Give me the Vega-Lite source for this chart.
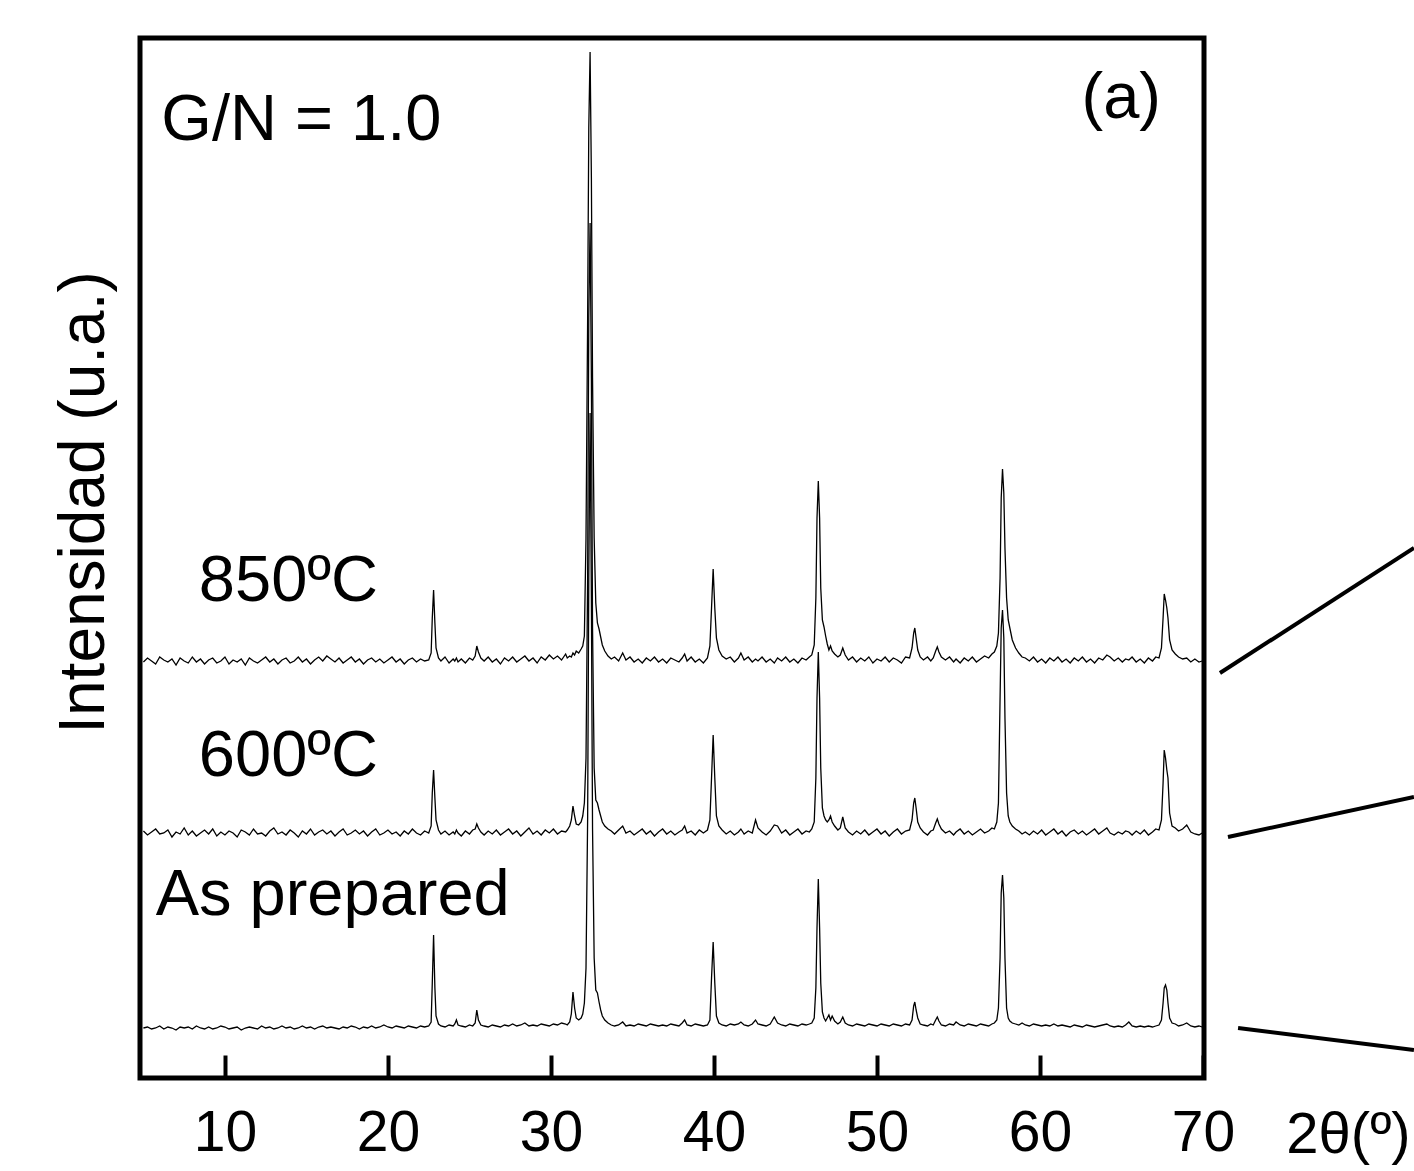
{
  "$schema": "https://vega.github.io/schema/vega-lite/v6.json",
  "width": 1064,
  "height": 1040,
  "autosize": {"type": "none"},
  "padding": {"left": 140, "top": 38, "right": 210, "bottom": 93},
  "background": "white",
  "config": {
    "view": {"stroke": "black", "strokeWidth": 5},
    "font": "Liberation Sans"
  },
  "datasets": {
    "xrd": [
      {"x":5,"a":50,"b":247,"c":416},{"x":5.25,"a":51,"b":243,"c":420},{"x":5.5,"a":49,"b":246,"c":417},{"x":5.75,"a":50,"b":249,"c":414},
      {"x":6,"a":52,"b":244,"c":421},{"x":6.25,"a":49,"b":245,"c":418},{"x":6.5,"a":51,"b":248,"c":416},{"x":6.75,"a":50,"b":241,"c":419},
      {"x":7,"a":48,"b":246,"c":413},{"x":7.25,"a":51,"b":244,"c":420},{"x":7.5,"a":50,"b":250,"c":417},{"x":7.75,"a":51,"b":243,"c":415},
      {"x":8,"a":49,"b":247,"c":421},{"x":8.25,"a":52,"b":242,"c":416},{"x":8.5,"a":50,"b":245,"c":419},{"x":8.75,"a":49,"b":248,"c":414},
      {"x":9,"a":51,"b":244,"c":418},{"x":9.25,"a":49,"b":249,"c":420},{"x":9.5,"a":50,"b":242,"c":415},{"x":9.75,"a":52,"b":246,"c":417},
      {"x":10,"a":51,"b":243,"c":421},{"x":10.25,"a":49,"b":247,"c":414},{"x":10.5,"a":50,"b":245,"c":418},{"x":10.75,"a":51,"b":241,"c":416},
      {"x":11,"a":48,"b":248,"c":419},{"x":11.25,"a":50,"b":246,"c":413},{"x":11.5,"a":51,"b":243,"c":420},{"x":11.75,"a":50,"b":249,"c":417},
      {"x":12,"a":49,"b":244,"c":415},{"x":12.25,"a":52,"b":245,"c":418},{"x":12.5,"a":50,"b":242,"c":421},{"x":12.75,"a":51,"b":247,"c":416},
      {"x":13,"a":49,"b":250,"c":419},{"x":13.25,"a":50,"b":244,"c":414},{"x":13.5,"a":52,"b":246,"c":418},{"x":13.75,"a":50,"b":243,"c":420},
      {"x":14,"a":51,"b":248,"c":415},{"x":14.25,"a":49,"b":245,"c":417},{"x":14.5,"a":50,"b":241,"c":421},{"x":14.75,"a":52,"b":247,"c":416},
      {"x":15,"a":50,"b":244,"c":419},{"x":15.25,"a":51,"b":249,"c":414},{"x":15.5,"a":49,"b":243,"c":418},{"x":15.75,"a":51,"b":246,"c":421},
      {"x":16,"a":52,"b":248,"c":417},{"x":16.25,"a":50,"b":244,"c":422},{"x":16.5,"a":51,"b":247,"c":419},{"x":16.75,"a":50,"b":242,"c":416},
      {"x":17,"a":49,"b":246,"c":420},{"x":17.25,"a":51,"b":249,"c":415},{"x":17.5,"a":50,"b":243,"c":418},{"x":17.75,"a":52,"b":245,"c":421},
      {"x":18,"a":51,"b":248,"c":416},{"x":18.25,"a":49,"b":244,"c":419},{"x":18.5,"a":51,"b":247,"c":414},{"x":18.75,"a":50,"b":242,"c":418},
      {"x":19,"a":52,"b":246,"c":420},{"x":19.25,"a":50,"b":249,"c":416},{"x":19.5,"a":51,"b":243,"c":419},{"x":19.75,"a":53,"b":245,"c":415},
      {"x":20,"a":51,"b":248,"c":418},{"x":20.25,"a":50,"b":244,"c":421},{"x":20.5,"a":52,"b":246,"c":416},{"x":20.75,"a":51,"b":242,"c":419},
      {"x":21,"a":50,"b":247,"c":414},{"x":21.25,"a":52,"b":244,"c":418},{"x":21.5,"a":51,"b":249,"c":420},{"x":21.75,"a":50,"b":245,"c":416},
      {"x":22,"a":52,"b":243,"c":419},{"x":22.25,"a":51,"b":247,"c":417},{"x":22.5,"a":52,"b":245,"c":418},
      {"x":22.65,"a":56,"b":252,"c":425},{"x":22.72,"a":95,"b":285,"c":460},{"x":22.8,"a":143,"b":308,"c":488},{"x":22.88,"a":90,"b":280,"c":455},
      {"x":22.95,"a":62,"b":258,"c":430},{"x":23.1,"a":54,"b":248,"c":420},{"x":23.25,"a":52,"b":244,"c":417},{"x":23.5,"a":51,"b":247,"c":421},
      {"x":23.75,"a":53,"b":243,"c":415},{"x":24,"a":52,"b":246,"c":419},{"x":24.1,"a":54,"b":244,"c":417},{"x":24.2,"a":58,"b":248,"c":420},
      {"x":24.3,"a":53,"b":245,"c":416},{"x":24.5,"a":52,"b":242,"c":419},{"x":24.75,"a":51,"b":247,"c":415},{"x":25,"a":53,"b":244,"c":420},
      {"x":25.2,"a":52,"b":248,"c":418},{"x":25.35,"a":55,"b":249,"c":422},{"x":25.45,"a":68,"b":254,"c":432},{"x":25.55,"a":58,"b":250,"c":426},
      {"x":25.7,"a":53,"b":246,"c":420},{"x":25.9,"a":52,"b":243,"c":417},{"x":26.15,"a":51,"b":247,"c":421},{"x":26.4,"a":53,"b":244,"c":416},
      {"x":26.65,"a":52,"b":248,"c":419},{"x":26.9,"a":51,"b":243,"c":414},{"x":27.15,"a":53,"b":246,"c":420},{"x":27.4,"a":52,"b":249,"c":417},
      {"x":27.65,"a":54,"b":244,"c":421},{"x":27.9,"a":52,"b":247,"c":416},{"x":28.15,"a":53,"b":242,"c":419},{"x":28.4,"a":55,"b":246,"c":422},
      {"x":28.65,"a":52,"b":250,"c":417},{"x":28.9,"a":53,"b":244,"c":420},{"x":29.15,"a":52,"b":247,"c":415},{"x":29.4,"a":54,"b":243,"c":421},
      {"x":29.65,"a":53,"b":248,"c":418},{"x":29.9,"a":52,"b":245,"c":423},{"x":30.15,"a":54,"b":249,"c":419},{"x":30.4,"a":53,"b":244,"c":422},
      {"x":30.65,"a":55,"b":247,"c":418},{"x":30.9,"a":54,"b":246,"c":424},
      {"x":31,"a":53,"b":248,"c":420},{"x":31.15,"a":56,"b":252,"c":422},{"x":31.25,"a":64,"b":258,"c":421},{"x":31.35,"a":86,"b":272,"c":425},
      {"x":31.45,"a":70,"b":262,"c":423},{"x":31.55,"a":60,"b":254,"c":427},{"x":31.7,"a":58,"b":253,"c":425},{"x":31.85,"a":60,"b":256,"c":429},
      {"x":31.95,"a":64,"b":262,"c":432},{"x":32.05,"a":75,"b":275,"c":442},{"x":32.15,"a":110,"b":320,"c":540},{"x":32.25,"a":260,"b":500,"c":760},
      {"x":32.32,"a":500,"b":760,"c":950},{"x":32.4,"a":665,"b":855,"c":1026},{"x":32.48,"a":480,"b":700,"c":900},{"x":32.55,"a":250,"b":450,"c":700},
      {"x":32.65,"a":120,"b":310,"c":540},{"x":32.75,"a":88,"b":278,"c":475},{"x":32.85,"a":85,"b":275,"c":455},{"x":32.95,"a":76,"b":268,"c":449},
      {"x":33.05,"a":68,"b":262,"c":441},{"x":33.15,"a":62,"b":256,"c":433},{"x":33.3,"a":58,"b":252,"c":427},{"x":33.5,"a":55,"b":249,"c":422},
      {"x":33.7,"a":53,"b":247,"c":419},{"x":33.9,"a":52,"b":244,"c":421},{"x":34.15,"a":53,"b":248,"c":417},{"x":34.4,"a":56,"b":252,"c":425},
      {"x":34.6,"a":52,"b":245,"c":418},{"x":34.85,"a":53,"b":247,"c":421},{"x":35.1,"a":52,"b":243,"c":416},{"x":35.35,"a":54,"b":246,"c":419},
      {"x":35.6,"a":53,"b":249,"c":415},{"x":35.85,"a":52,"b":244,"c":420},{"x":36.1,"a":54,"b":247,"c":417},{"x":36.35,"a":53,"b":242,"c":421},
      {"x":36.6,"a":52,"b":246,"c":416},{"x":36.85,"a":53,"b":249,"c":419},{"x":37.1,"a":52,"b":244,"c":415},{"x":37.35,"a":54,"b":247,"c":420},
      {"x":37.6,"a":53,"b":243,"c":418},{"x":37.85,"a":52,"b":246,"c":416},{"x":38.05,"a":55,"b":248,"c":420},{"x":38.2,"a":58,"b":252,"c":424},
      {"x":38.35,"a":53,"b":245,"c":417},{"x":38.6,"a":52,"b":247,"c":421},{"x":38.85,"a":54,"b":243,"c":416},{"x":39.1,"a":53,"b":248,"c":419},
      {"x":39.35,"a":52,"b":245,"c":415},{"x":39.6,"a":53,"b":248,"c":420},{"x":39.75,"a":58,"b":258,"c":432},{"x":39.85,"a":100,"b":300,"c":470},
      {"x":39.95,"a":136,"b":343,"c":509},{"x":40.05,"a":95,"b":300,"c":470},{"x":40.15,"a":62,"b":262,"c":440},{"x":40.3,"a":55,"b":252,"c":428},
      {"x":40.5,"a":53,"b":248,"c":422},{"x":40.75,"a":52,"b":244,"c":419},{"x":41,"a":54,"b":247,"c":421},{"x":41.25,"a":53,"b":243,"c":416},
      {"x":41.5,"a":54,"b":246,"c":420},{"x":41.65,"a":56,"b":249,"c":425},{"x":41.85,"a":53,"b":244,"c":418},{"x":42.1,"a":52,"b":247,"c":421},
      {"x":42.35,"a":54,"b":245,"c":416},{"x":42.55,"a":58,"b":258,"c":419},{"x":42.7,"a":54,"b":250,"c":417},{"x":42.95,"a":53,"b":246,"c":421},
      {"x":43.2,"a":52,"b":243,"c":416},{"x":43.45,"a":54,"b":247,"c":419},{"x":43.7,"a":61,"b":253,"c":415},{"x":43.9,"a":55,"b":252,"c":420},
      {"x":44.15,"a":53,"b":245,"c":417},{"x":44.4,"a":52,"b":248,"c":421},{"x":44.65,"a":54,"b":243,"c":416},{"x":44.9,"a":53,"b":246,"c":419},
      {"x":45.15,"a":52,"b":249,"c":415},{"x":45.4,"a":54,"b":244,"c":420},{"x":45.65,"a":53,"b":247,"c":418},{"x":45.85,"a":54,"b":246,"c":421},
      {"x":46,"a":55,"b":249,"c":423},{"x":46.15,"a":60,"b":256,"c":433},{"x":46.25,"a":90,"b":300,"c":480},{"x":46.32,"a":150,"b":380,"c":560},
      {"x":46.4,"a":199,"b":426,"c":597},{"x":46.48,"a":150,"b":380,"c":560},{"x":46.55,"a":95,"b":310,"c":490},{"x":46.65,"a":66,"b":270,"c":458},
      {"x":46.75,"a":60,"b":262,"c":451},{"x":46.85,"a":57,"b":258,"c":442},{"x":46.95,"a":60,"b":256,"c":434},{"x":47.05,"a":63,"b":258,"c":428},
      {"x":47.15,"a":58,"b":262,"c":432},{"x":47.25,"a":62,"b":256,"c":427},{"x":47.4,"a":57,"b":252,"c":424},{"x":47.6,"a":54,"b":248,"c":421},
      {"x":47.75,"a":56,"b":250,"c":423},{"x":47.9,"a":61,"b":261,"c":430},{"x":48.05,"a":55,"b":250,"c":423},{"x":48.25,"a":53,"b":246,"c":418},
      {"x":48.5,"a":52,"b":243,"c":421},{"x":48.75,"a":54,"b":247,"c":416},{"x":49,"a":53,"b":244,"c":420},{"x":49.25,"a":52,"b":248,"c":417},
      {"x":49.5,"a":54,"b":243,"c":421},{"x":49.75,"a":53,"b":246,"c":415},{"x":50,"a":52,"b":249,"c":419},{"x":50.25,"a":54,"b":244,"c":417},
      {"x":50.5,"a":53,"b":247,"c":421},{"x":50.75,"a":52,"b":242,"c":416},{"x":51,"a":54,"b":246,"c":420},{"x":51.25,"a":53,"b":249,"c":418},
      {"x":51.5,"a":52,"b":244,"c":415},{"x":51.75,"a":54,"b":247,"c":421},{"x":52,"a":53,"b":248,"c":420},{"x":52.15,"a":58,"b":258,"c":430},
      {"x":52.25,"a":72,"b":275,"c":445},{"x":52.32,"a":76,"b":280,"c":450},{"x":52.4,"a":68,"b":270,"c":440},{"x":52.5,"a":60,"b":256,"c":428},
      {"x":52.65,"a":54,"b":250,"c":421},{"x":52.85,"a":53,"b":246,"c":418},{"x":53.1,"a":52,"b":243,"c":421},{"x":53.3,"a":54,"b":247,"c":417},
      {"x":53.45,"a":53,"b":248,"c":420},{"x":53.6,"a":58,"b":255,"c":427},{"x":53.7,"a":61,"b":259,"c":431},{"x":53.8,"a":57,"b":254,"c":426},
      {"x":53.95,"a":53,"b":249,"c":421},{"x":54.2,"a":52,"b":245,"c":418},{"x":54.45,"a":54,"b":247,"c":421},{"x":54.7,"a":53,"b":243,"c":416},
      {"x":54.85,"a":56,"b":246,"c":419},{"x":55.1,"a":53,"b":249,"c":415},{"x":55.35,"a":52,"b":244,"c":420},{"x":55.6,"a":54,"b":247,"c":417},
      {"x":55.85,"a":53,"b":243,"c":421},{"x":56.1,"a":52,"b":246,"c":416},{"x":56.35,"a":54,"b":249,"c":419},{"x":56.6,"a":53,"b":245,"c":422},
      {"x":56.85,"a":52,"b":247,"c":420},{"x":57.05,"a":54,"b":250,"c":424},{"x":57.2,"a":55,"b":249,"c":426},{"x":57.35,"a":58,"b":256,"c":432},
      {"x":57.45,"a":70,"b":275,"c":445},{"x":57.55,"a":120,"b":380,"c":500},{"x":57.62,"a":185,"b":450,"c":580},{"x":57.7,"a":203,"b":468,"c":609},
      {"x":57.78,"a":180,"b":440,"c":585},{"x":57.85,"a":120,"b":360,"c":530},{"x":57.95,"a":70,"b":285,"c":480},{"x":58.05,"a":60,"b":262,"c":458},
      {"x":58.15,"a":57,"b":256,"c":450},{"x":58.3,"a":55,"b":252,"c":438},{"x":58.5,"a":54,"b":249,"c":430},{"x":58.7,"a":53,"b":247,"c":425},
      {"x":58.9,"a":55,"b":244,"c":421},{"x":59.1,"a":53,"b":246,"c":420},{"x":59.35,"a":52,"b":243,"c":417},{"x":59.6,"a":54,"b":247,"c":421},
      {"x":59.85,"a":53,"b":244,"c":416},{"x":60.1,"a":52,"b":248,"c":419},{"x":60.35,"a":53,"b":243,"c":415},{"x":60.6,"a":52,"b":246,"c":420},
      {"x":60.85,"a":54,"b":249,"c":417},{"x":61.1,"a":52,"b":244,"c":421},{"x":61.35,"a":53,"b":247,"c":416},{"x":61.6,"a":52,"b":242,"c":419},
      {"x":61.85,"a":51,"b":246,"c":415},{"x":62.1,"a":53,"b":248,"c":420},{"x":62.35,"a":52,"b":244,"c":417},{"x":62.6,"a":51,"b":247,"c":421},
      {"x":62.85,"a":53,"b":243,"c":416},{"x":63.1,"a":52,"b":246,"c":419},{"x":63.35,"a":51,"b":249,"c":415},{"x":63.6,"a":52,"b":244,"c":420},
      {"x":63.85,"a":53,"b":247,"c":418},{"x":64.1,"a":54,"b":250,"c":423},{"x":64.3,"a":52,"b":245,"c":421},{"x":64.55,"a":51,"b":243,"c":417},
      {"x":64.8,"a":52,"b":246,"c":420},{"x":65.05,"a":51,"b":244,"c":416},{"x":65.25,"a":53,"b":247,"c":419},{"x":65.45,"a":56,"b":246,"c":418},
      {"x":65.65,"a":52,"b":243,"c":421},{"x":65.9,"a":51,"b":247,"c":416},{"x":66.15,"a":52,"b":244,"c":419},{"x":66.4,"a":51,"b":248,"c":415},
      {"x":66.65,"a":52,"b":243,"c":420},{"x":66.9,"a":51,"b":246,"c":417},{"x":67.1,"a":52,"b":249,"c":421},{"x":67.3,"a":53,"b":248,"c":420},
      {"x":67.45,"a":58,"b":258,"c":430},{"x":67.55,"a":75,"b":295,"c":460},{"x":67.62,"a":90,"b":328,"c":484},{"x":67.7,"a":93,"b":320,"c":478},
      {"x":67.78,"a":88,"b":308,"c":470},{"x":67.85,"a":75,"b":300,"c":460},{"x":67.95,"a":60,"b":265,"c":438},{"x":68.1,"a":55,"b":252,"c":428},
      {"x":68.3,"a":54,"b":250,"c":424},{"x":68.5,"a":52,"b":247,"c":421},{"x":68.75,"a":53,"b":249,"c":419},{"x":69,"a":55,"b":253,"c":420},
      {"x":69.25,"a":52,"b":246,"c":416},{"x":69.5,"a":51,"b":244,"c":419},{"x":69.75,"a":52,"b":243,"c":416},{"x":69.95,"a":51,"b":245,"c":417}
    ],
    "links": [
      {"x1": 71.04, "y1": 405, "x2": 82.94, "y2": 530},
      {"x1": 71.53, "y1": 241, "x2": 82.94, "y2": 281},
      {"x1": 72.15, "y1": 50, "x2": 82.94, "y2": 28}
    ],
    "labels": [
      {"x": 6.1, "y": 938, "t": "G/N = 1.0"},
      {"x": 62.55, "y": 960, "t": "(a)"},
      {"x": 8.4, "y": 477, "t": "850ºC"},
      {"x": 8.4, "y": 302, "t": "600ºC"},
      {"x": 5.75, "y": 163, "t": "As prepared"}
    ]
  },
  "layer": [
    {
      "data": {"name": "xrd"},
      "transform": [{"fold": ["a", "b", "c"], "as": ["serie", "I"]}],
      "mark": {"type": "line", "color": "black", "strokeWidth": 1.3},
      "encoding": {
        "x": {
          "field": "x", "type": "quantitative",
          "scale": {"domain": [4.79, 70.06], "nice": false, "zero": false},
          "axis": {
            "values": [10, 20, 30, 40, 50, 60, 70],
            "domain": false, "grid": false,
            "ticks": true, "tickSize": -23, "tickWidth": 4, "tickColor": "black",
            "labelFontSize": 57, "labelColor": "black", "labelPadding": 95,
            "labelBaseline": "alphabetic", "labelFlush": false, "labelOverlap": false,
            "title": "2θ(º)", "titleFontSize": 58, "titleFontWeight": "normal", "titleColor": "black",
            "titleX": 1208, "titleY": 74, "titleAlign": "center", "titleBaseline": "alphabetic"
          }
        },
        "y": {
          "field": "I", "type": "quantitative",
          "scale": {"domain": [0, 1040], "nice": false, "zero": false},
          "axis": {
            "domain": false, "grid": false, "ticks": false, "labels": false,
            "title": "Intensidad (u.a.)", "titleFontSize": 64, "titleFontWeight": "normal", "titleColor": "black",
            "titleAngle": -90, "titleX": -37, "titleY": 464, "titleAlign": "center", "titleBaseline": "alphabetic"
          }
        },
        "detail": {"field": "serie", "type": "nominal"}
      }
    },
    {
      "data": {"name": "links"},
      "mark": {"type": "rule", "color": "black", "strokeWidth": 4, "clip": false},
      "encoding": {
        "x": {"field": "x1", "type": "quantitative"},
        "y": {"field": "y1", "type": "quantitative"},
        "x2": {"field": "x2"},
        "y2": {"field": "y2"}
      }
    },
    {
      "data": {"name": "labels"},
      "mark": {"type": "text", "fontSize": 65, "align": "left", "baseline": "alphabetic", "color": "black"},
      "encoding": {
        "x": {"field": "x", "type": "quantitative"},
        "y": {"field": "y", "type": "quantitative"},
        "text": {"field": "t"}
      }
    }
  ]
}
